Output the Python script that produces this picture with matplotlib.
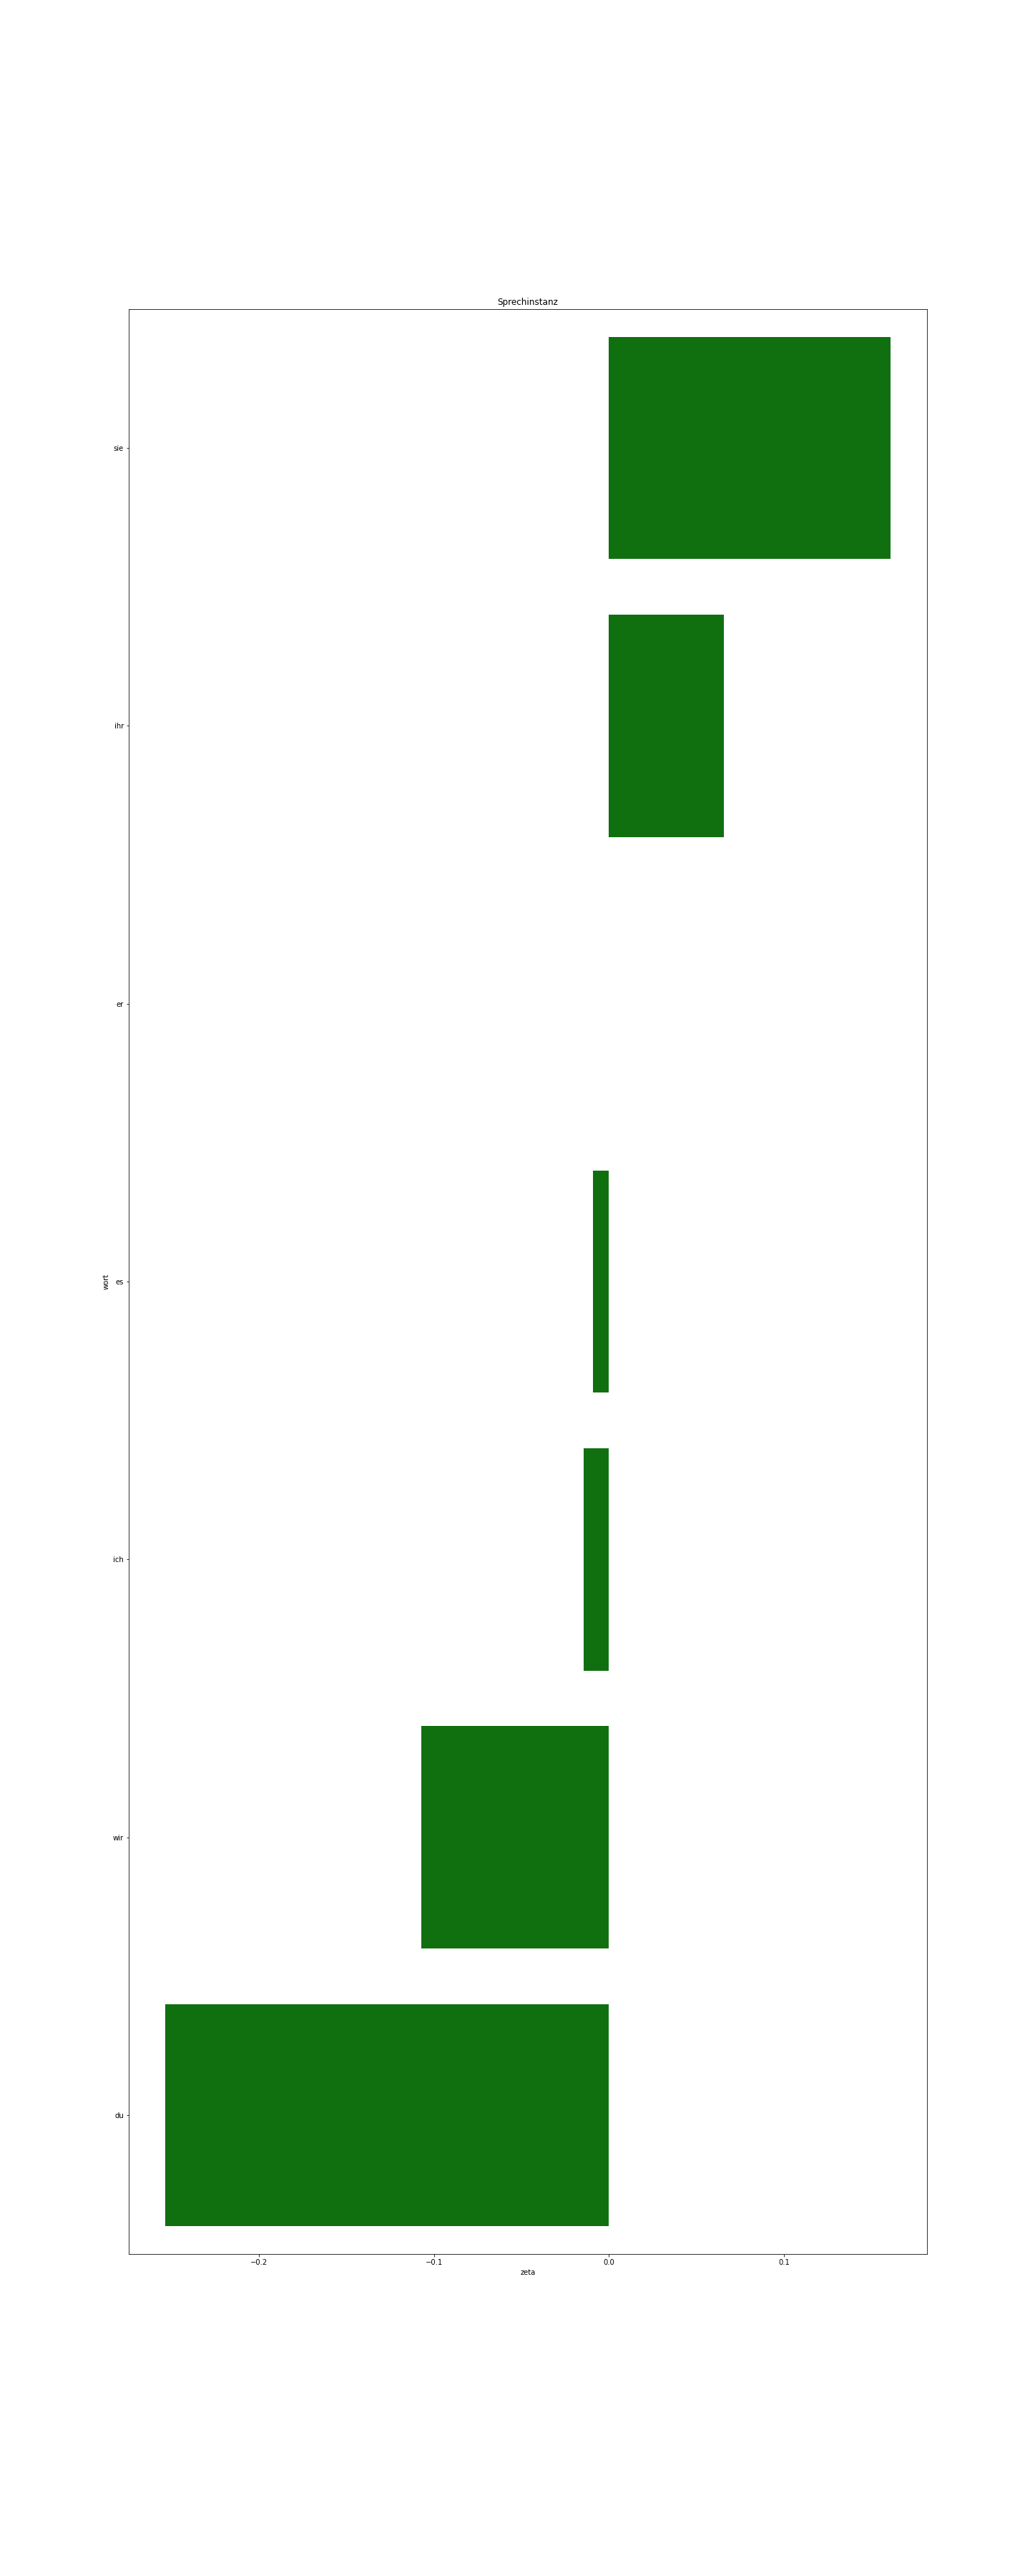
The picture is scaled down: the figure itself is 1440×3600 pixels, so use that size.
import matplotlib
matplotlib.use("Agg")
import matplotlib.pyplot as plt
import seaborn as sns
import pandas as pd

# words and their zeta scores, top to bottom
words = ["sie", "ihr", "er", "es", "ich", "wir", "du"]
zeta = [0.1611, 0.0659, 0.0, -0.0090, -0.0143, -0.1071, -0.2537]

df = pd.DataFrame({"wort": words, "zeta": zeta})

# 20x50 inches at 72 dpi -> 1440x3600
fig = plt.figure(figsize=(20, 50), dpi=72)
ax = fig.add_subplot(111)
fig.subplots_adjust(left=0.125, right=0.9, top=0.88, bottom=0.125)

sns.barplot(data=df, x="zeta", y="wort", color="green", orient="h", ax=ax)
ax.set_title("Sprechinstanz")
ax.set_xlabel("zeta")
ax.set_ylabel("wort")

plt.savefig("out.png", dpi=72)
